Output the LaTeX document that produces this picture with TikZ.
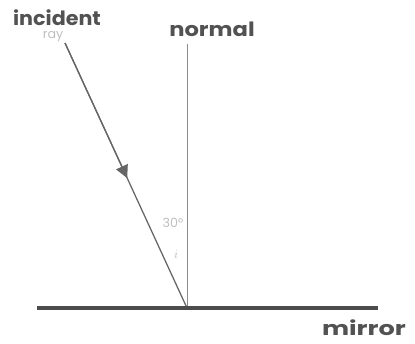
\documentclass[tikz,border=0pt]{standalone}
\usepackage{fontspec}
\setmainfont{Poppins}
\usetikzlibrary{arrows.meta,calc,positioning}

\begin{document}
\begin{tikzpicture}[x=0.025cm, y=-0.025cm,
  lbl/.style={font=\bfseries\fontsize{14}{14}\selectfont, text=black!68, inner sep=0pt},
  faint/.style={font=\fontsize{9}{9}\selectfont, text=black!25, inner sep=0pt},
  ray/.style={draw=black!60, line width=0.9pt},
  normline/.style={draw=black!45, line width=0.7pt},
  mirrorline/.style={draw=black!70, line width=2.2pt}
]
\useasboundingbox (0,0) rectangle (415,343);
% points
\coordinate (src) at (65,43);
\coordinate (hit) at (187,308);
\coordinate (ntop) at (187,44);
\coordinate (mleft) at (37,308);
\coordinate (mright) at (378,308);
% labels
\node[lbl] (inc) at (57,18) {\scalebox{1.05}[1]{incident}};
\node[faint] (raylbl) at (53,37) {ray};
\node[lbl] (nrm) at (212,29) {\scalebox{1.15}[1]{normal}};
\node[lbl] (mir) at (364,328) {\scalebox{1.3}[1]{mirror}};
\node[faint] (ang) at (173,223) {30°};
\node[faint] (ilbl) at (176,254) {$i$};
% lines
\draw[normline] (ntop) -- (hit);
\draw[ray] (src) -- (hit);
\draw[ray, -{Triangle[width=9pt,length=9pt]}] (src) -- ($(src)!0.51!(hit)$);
\draw[mirrorline] (mleft) -- (mright);
\end{tikzpicture}
\end{document}
